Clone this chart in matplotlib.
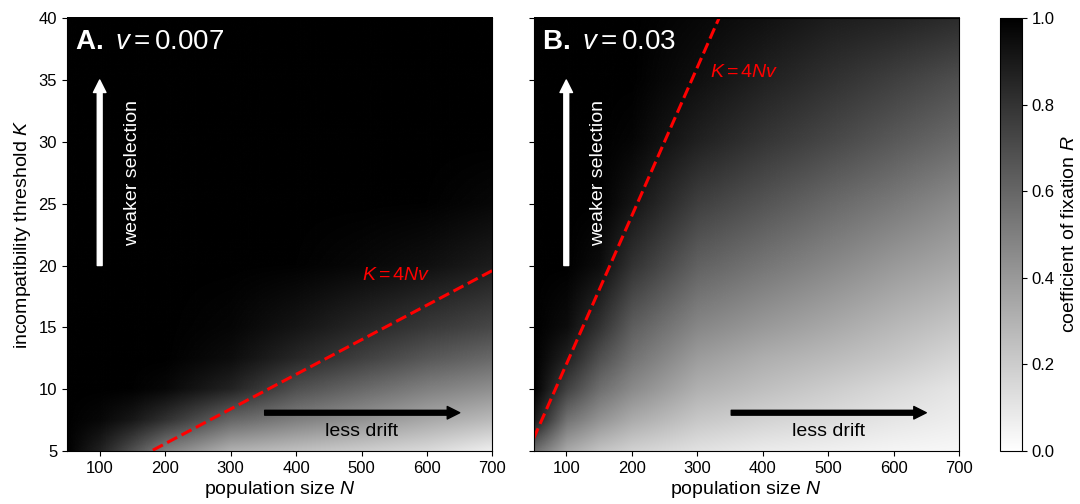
import matplotlib
matplotlib.use("Agg")
import matplotlib.pyplot as plt
from matplotlib.image import NonUniformImage
import numpy as np

plt.rcParams['font.family'] = ['Liberation Sans', 'DejaVu Sans']
plt.rcParams['mathtext.fontset'] = 'custom'
plt.rcParams['mathtext.rm'] = 'Liberation Sans'
plt.rcParams['mathtext.it'] = 'Liberation Sans:italic'
plt.rcParams['mathtext.bf'] = 'Liberation Sans:bold'

pop_N = [50, 100, 150, 200, 300, 400, 500, 600, 700]
thr_K = [5, 7.5, 10, 12.5, 15, 20, 25, 30, 35, 40]

# panel A, v = 0.007 (rows = K, cols = N)
R_a = [
    [1.00, 0.87, 0.69, 0.50, 0.31, 0.25, 0.20, 0.15, 0.07],
    [1.00, 0.97, 0.91, 0.81, 0.60, 0.50, 0.42, 0.34, 0.27],
    [1.00, 1.00, 0.99, 0.97, 0.86, 0.69, 0.59, 0.50, 0.44],
    [1.00, 1.00, 1.00, 1.00, 0.95, 0.85, 0.75, 0.66, 0.59],
    [1.00, 1.00, 1.00, 1.00, 0.98, 0.92, 0.85, 0.78, 0.72],
    [1.00, 1.00, 1.00, 1.00, 1.00, 0.99, 0.97, 0.94, 0.89],
    [1.00, 1.00, 1.00, 1.00, 1.00, 1.00, 1.00, 0.99, 0.97],
    [1.00, 1.00, 1.00, 1.00, 1.00, 1.00, 1.00, 1.00, 1.00],
    [1.00, 1.00, 1.00, 1.00, 1.00, 1.00, 1.00, 1.00, 1.00],
    [1.00, 1.00, 1.00, 1.00, 1.00, 1.00, 1.00, 1.00, 1.00],
]

# panel B, v = 0.03
R_b = [
    [0.58, 0.34, 0.24, 0.18, 0.12, 0.08, 0.06, 0.04, 0.03],
    [0.90, 0.55, 0.42, 0.33, 0.22, 0.17, 0.14, 0.10, 0.07],
    [1.00, 0.74, 0.57, 0.46, 0.31, 0.25, 0.20, 0.15, 0.10],
    [1.00, 0.87, 0.69, 0.55, 0.39, 0.32, 0.27, 0.22, 0.16],
    [1.00, 0.95, 0.80, 0.63, 0.47, 0.40, 0.34, 0.28, 0.22],
    [1.00, 1.00, 0.95, 0.80, 0.62, 0.54, 0.47, 0.40, 0.34],
    [1.00, 1.00, 1.00, 0.92, 0.75, 0.67, 0.59, 0.52, 0.45],
    [1.00, 1.00, 1.00, 0.98, 0.87, 0.79, 0.72, 0.65, 0.58],
    [1.00, 1.00, 1.00, 1.00, 0.94, 0.87, 0.81, 0.75, 0.69],
    [1.00, 1.00, 1.00, 1.00, 0.97, 0.93, 0.89, 0.86, 0.83],
]

v_vals = [0.007, 0.03]
panel_tags = ['A.', 'B.']
v_labels = ['0.007', '0.03']
line_label_pos = [(500, 19.2), (320, 35.6)]

fig = plt.figure(figsize=(10.8, 5.04), dpi=100)
ax_a = fig.add_axes([0.062, 0.105, 0.394, 0.859])
ax_b = fig.add_axes([0.494, 0.105, 0.394, 0.859])
cax = fig.add_axes([0.926, 0.105, 0.0204, 0.859])

for ax, R, v, tag, vl, lpos in zip([ax_a, ax_b], [R_a, R_b], v_vals, panel_tags, v_labels, line_label_pos):
    # heat map, smooth bilinear shading on the uneven grid
    im = NonUniformImage(ax, interpolation='bilinear', extent=(50, 700, 5, 40), cmap='gray_r')
    im.set_data(pop_N, thr_K, np.array(R))
    im.set_clim(0, 1)
    ax.add_image(im)
    # K = 4Nv line
    line_N = np.array([50, 700])
    ax.plot(line_N, 4 * line_N * v, '--', color='red', lw=2.2)
    ax.text(lpos[0], lpos[1], r'$K = 4Nv$', color='red', fontsize=14, va='center')
    ax.set_xlim(50, 700)
    ax.set_ylim(5, 40)
    ax.set_xticks([100, 200, 300, 400, 500, 600, 700])
    ax.set_yticks([5, 10, 15, 20, 25, 30, 35, 40])
    ax.tick_params(labelsize=12)
    ax.set_xlabel('population size $N$', fontsize=14, labelpad=2)
    ax.text(0.02, 0.975, r'$\mathbf{' + tag + r'}\ v = ' + vl + '$', transform=ax.transAxes,
            color='white', fontsize=20, va='top', ha='left')
    # weaker selection arrow
    ax.annotate('', xy=(100, 35), xytext=(100, 20),
                arrowprops=dict(facecolor='white', edgecolor='white', width=3.5,
                                headwidth=9, headlength=9, shrink=0))
    ax.text(150, 27.5, 'weaker selection', color='white', fontsize=14,
            rotation=90, ha='center', va='center')
    # less drift arrow
    ax.annotate('', xy=(650, 8.1), xytext=(352, 8.1),
                arrowprops=dict(facecolor='black', edgecolor='black', width=3.5,
                                headwidth=9, headlength=9, shrink=0))
    ax.text(500, 6.6, 'less drift', color='black', fontsize=14, ha='center', va='center')

ax_a.set_ylabel('incompatibility threshold $K$', fontsize=14)
ax_b.tick_params(labelleft=False)

cb = fig.colorbar(im, cax=cax)
cb.set_ticks([0.0, 0.2, 0.4, 0.6, 0.8, 1.0])
cb.ax.tick_params(labelsize=12)
cb.set_label('coefficient of fixation $R$', fontsize=14)

fig.savefig('out.png', dpi=100)
